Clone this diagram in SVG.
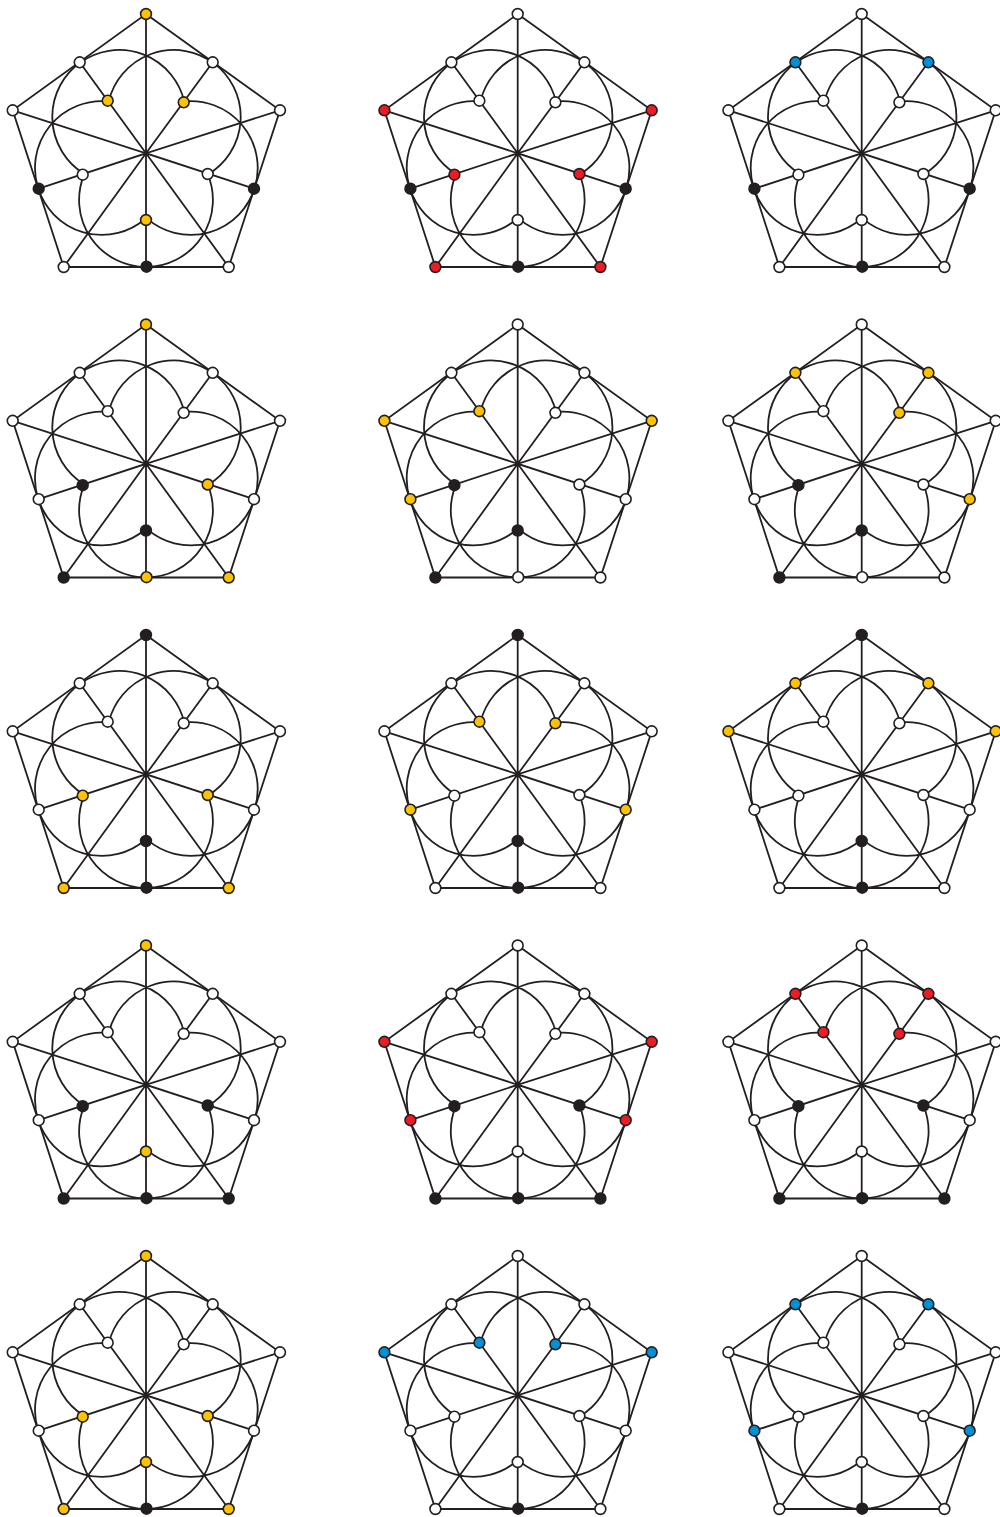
<svg xmlns="http://www.w3.org/2000/svg" width="1000" height="1517" viewBox="0 0 1000 1517">
<style>
.edges{fill:none;stroke:#231f20;stroke-width:1.8}
.p{fill:#fff}
circle{stroke:#231f20;stroke-width:1.6}
.y{fill:#fdc300}.r{fill:#ed1c24}.b{fill:#0091d5}.k{fill:#231f20}
</style>
<defs>
<g id="skeleton">
<path d="M146 14L280 110.3L228.7 267L63.7 267L12.7 110.3Z"/>
<path d="M146 14L146 266.7M280 110.3L146 153.3L12.7 110.3M228.7 267L146 153.3L63.7 267M212.7 62.3L146 153.3L79.7 62.3M254 188.7L146 153.3L38.7 188.7"/>
<path d="M184.45 102.13A66.9 66.9 0 1 0 83.48 173.46M207.95 174.43A66.9 66.9 0 1 0 108.83 100.98M147.14 218.68A66.9 66.9 0 1 0 183.61 101.49M83.88 175.17A66.9 66.9 0 1 0 207.65 174.02M107.64 101.35A66.9 66.9 0 1 0 145.17 219.02"/>
</g>
<circle id="O0" cx="146" cy="14" r="5.4"/><circle id="O1" cx="280" cy="110.3" r="5.4"/><circle id="O2" cx="228.7" cy="267" r="5.4"/><circle id="O3" cx="63.7" cy="267" r="5.4"/><circle id="O4" cx="12.7" cy="110.3" r="5.4"/>
<circle id="M0" cx="212.7" cy="62.3" r="5.4"/><circle id="M1" cx="254" cy="188.7" r="5.4"/><circle id="M2" cx="146.5" cy="266.7" r="5.4"/><circle id="M3" cx="38.7" cy="188.7" r="5.4"/><circle id="M4" cx="79.7" cy="62.3" r="5.4"/>
<circle id="I0" cx="183.7" cy="102.3" r="5.4"/><circle id="I1" cx="207.7" cy="174" r="5.4"/><circle id="I2" cx="146" cy="220" r="5.4"/><circle id="I3" cx="82.7" cy="174.7" r="5.4"/><circle id="I4" cx="107.7" cy="100.7" r="5.4"/>
</defs>

<g id="r1c1" class="p">
<g id="r1c1-edges" class="edges"><use href="#skeleton"/></g>
<g id="r1c1-O0" class="y"><use href="#O0"/></g><g id="r1c1-O1"><use href="#O1"/></g><g id="r1c1-O2"><use href="#O2"/></g><g id="r1c1-O3"><use href="#O3"/></g><g id="r1c1-O4"><use href="#O4"/></g>
<g id="r1c1-M0"><use href="#M0"/></g><g id="r1c1-M1" class="k"><use href="#M1"/></g><g id="r1c1-M2" class="k"><use href="#M2"/></g><g id="r1c1-M3" class="k"><use href="#M3"/></g><g id="r1c1-M4"><use href="#M4"/></g>
<g id="r1c1-I0" class="y"><use href="#I0"/></g><g id="r1c1-I1"><use href="#I1"/></g><g id="r1c1-I2" class="y"><use href="#I2"/></g><g id="r1c1-I3"><use href="#I3"/></g><g id="r1c1-I4" class="y"><use href="#I4"/></g>
</g>

<g id="r1c2" class="p" transform="translate(371.7 0)">
<g id="r1c2-edges" class="edges"><use href="#skeleton"/></g>
<g id="r1c2-O0"><use href="#O0"/></g><g id="r1c2-O1" class="r"><use href="#O1"/></g><g id="r1c2-O2" class="r"><use href="#O2"/></g><g id="r1c2-O3" class="r"><use href="#O3"/></g><g id="r1c2-O4" class="r"><use href="#O4"/></g>
<g id="r1c2-M0"><use href="#M0"/></g><g id="r1c2-M1" class="k"><use href="#M1"/></g><g id="r1c2-M2" class="k"><use href="#M2"/></g><g id="r1c2-M3" class="k"><use href="#M3"/></g><g id="r1c2-M4"><use href="#M4"/></g>
<g id="r1c2-I0"><use href="#I0"/></g><g id="r1c2-I1" class="r"><use href="#I1"/></g><g id="r1c2-I2"><use href="#I2"/></g><g id="r1c2-I3" class="r"><use href="#I3"/></g><g id="r1c2-I4"><use href="#I4"/></g>
</g>

<g id="r1c3" class="p" transform="translate(715.7 0)">
<g id="r1c3-edges" class="edges"><use href="#skeleton"/></g>
<g id="r1c3-O0"><use href="#O0"/></g><g id="r1c3-O1"><use href="#O1"/></g><g id="r1c3-O2"><use href="#O2"/></g><g id="r1c3-O3"><use href="#O3"/></g><g id="r1c3-O4"><use href="#O4"/></g>
<g id="r1c3-M0" class="b"><use href="#M0"/></g><g id="r1c3-M1" class="k"><use href="#M1"/></g><g id="r1c3-M2" class="k"><use href="#M2"/></g><g id="r1c3-M3" class="k"><use href="#M3"/></g><g id="r1c3-M4" class="b"><use href="#M4"/></g>
<g id="r1c3-I0"><use href="#I0"/></g><g id="r1c3-I1"><use href="#I1"/></g><g id="r1c3-I2"><use href="#I2"/></g><g id="r1c3-I3"><use href="#I3"/></g><g id="r1c3-I4"><use href="#I4"/></g>
</g>

<g id="r2c1" class="p" transform="translate(0 310.5)">
<g id="r2c1-edges" class="edges"><use href="#skeleton"/></g>
<g id="r2c1-O0" class="y"><use href="#O0"/></g><g id="r2c1-O1"><use href="#O1"/></g><g id="r2c1-O2" class="y"><use href="#O2"/></g><g id="r2c1-O3" class="k"><use href="#O3"/></g><g id="r2c1-O4"><use href="#O4"/></g>
<g id="r2c1-M0"><use href="#M0"/></g><g id="r2c1-M1"><use href="#M1"/></g><g id="r2c1-M2" class="y"><use href="#M2"/></g><g id="r2c1-M3"><use href="#M3"/></g><g id="r2c1-M4"><use href="#M4"/></g>
<g id="r2c1-I0"><use href="#I0"/></g><g id="r2c1-I1" class="y"><use href="#I1"/></g><g id="r2c1-I2" class="k"><use href="#I2"/></g><g id="r2c1-I3" class="k"><use href="#I3"/></g><g id="r2c1-I4"><use href="#I4"/></g>
</g>

<g id="r2c2" class="p" transform="translate(371.7 310.5)">
<g id="r2c2-edges" class="edges"><use href="#skeleton"/></g>
<g id="r2c2-O0"><use href="#O0"/></g><g id="r2c2-O1" class="y"><use href="#O1"/></g><g id="r2c2-O2"><use href="#O2"/></g><g id="r2c2-O3" class="k"><use href="#O3"/></g><g id="r2c2-O4" class="y"><use href="#O4"/></g>
<g id="r2c2-M0"><use href="#M0"/></g><g id="r2c2-M1"><use href="#M1"/></g><g id="r2c2-M2"><use href="#M2"/></g><g id="r2c2-M3" class="y"><use href="#M3"/></g><g id="r2c2-M4"><use href="#M4"/></g>
<g id="r2c2-I0"><use href="#I0"/></g><g id="r2c2-I1"><use href="#I1"/></g><g id="r2c2-I2" class="k"><use href="#I2"/></g><g id="r2c2-I3" class="k"><use href="#I3"/></g><g id="r2c2-I4" class="y"><use href="#I4"/></g>
</g>

<g id="r2c3" class="p" transform="translate(715.7 310.5)">
<g id="r2c3-edges" class="edges"><use href="#skeleton"/></g>
<g id="r2c3-O0"><use href="#O0"/></g><g id="r2c3-O1"><use href="#O1"/></g><g id="r2c3-O2"><use href="#O2"/></g><g id="r2c3-O3" class="k"><use href="#O3"/></g><g id="r2c3-O4"><use href="#O4"/></g>
<g id="r2c3-M0" class="y"><use href="#M0"/></g><g id="r2c3-M1" class="y"><use href="#M1"/></g><g id="r2c3-M2"><use href="#M2"/></g><g id="r2c3-M3"><use href="#M3"/></g><g id="r2c3-M4" class="y"><use href="#M4"/></g>
<g id="r2c3-I0" class="y"><use href="#I0"/></g><g id="r2c3-I1"><use href="#I1"/></g><g id="r2c3-I2" class="k"><use href="#I2"/></g><g id="r2c3-I3" class="k"><use href="#I3"/></g><g id="r2c3-I4"><use href="#I4"/></g>
</g>

<g id="r3c1" class="p" transform="translate(0 621)">
<g id="r3c1-edges" class="edges"><use href="#skeleton"/></g>
<g id="r3c1-O0" class="k"><use href="#O0"/></g><g id="r3c1-O1"><use href="#O1"/></g><g id="r3c1-O2" class="y"><use href="#O2"/></g><g id="r3c1-O3" class="y"><use href="#O3"/></g><g id="r3c1-O4"><use href="#O4"/></g>
<g id="r3c1-M0"><use href="#M0"/></g><g id="r3c1-M1"><use href="#M1"/></g><g id="r3c1-M2" class="k"><use href="#M2"/></g><g id="r3c1-M3"><use href="#M3"/></g><g id="r3c1-M4"><use href="#M4"/></g>
<g id="r3c1-I0"><use href="#I0"/></g><g id="r3c1-I1" class="y"><use href="#I1"/></g><g id="r3c1-I2" class="k"><use href="#I2"/></g><g id="r3c1-I3" class="y"><use href="#I3"/></g><g id="r3c1-I4"><use href="#I4"/></g>
</g>

<g id="r3c2" class="p" transform="translate(371.7 621)">
<g id="r3c2-edges" class="edges"><use href="#skeleton"/></g>
<g id="r3c2-O0" class="k"><use href="#O0"/></g><g id="r3c2-O1"><use href="#O1"/></g><g id="r3c2-O2"><use href="#O2"/></g><g id="r3c2-O3"><use href="#O3"/></g><g id="r3c2-O4"><use href="#O4"/></g>
<g id="r3c2-M0"><use href="#M0"/></g><g id="r3c2-M1" class="y"><use href="#M1"/></g><g id="r3c2-M2" class="k"><use href="#M2"/></g><g id="r3c2-M3" class="y"><use href="#M3"/></g><g id="r3c2-M4"><use href="#M4"/></g>
<g id="r3c2-I0" class="y"><use href="#I0"/></g><g id="r3c2-I1"><use href="#I1"/></g><g id="r3c2-I2" class="k"><use href="#I2"/></g><g id="r3c2-I3"><use href="#I3"/></g><g id="r3c2-I4" class="y"><use href="#I4"/></g>
</g>

<g id="r3c3" class="p" transform="translate(715.7 621)">
<g id="r3c3-edges" class="edges"><use href="#skeleton"/></g>
<g id="r3c3-O0" class="k"><use href="#O0"/></g><g id="r3c3-O1" class="y"><use href="#O1"/></g><g id="r3c3-O2"><use href="#O2"/></g><g id="r3c3-O3"><use href="#O3"/></g><g id="r3c3-O4" class="y"><use href="#O4"/></g>
<g id="r3c3-M0" class="y"><use href="#M0"/></g><g id="r3c3-M1"><use href="#M1"/></g><g id="r3c3-M2" class="k"><use href="#M2"/></g><g id="r3c3-M3"><use href="#M3"/></g><g id="r3c3-M4" class="y"><use href="#M4"/></g>
<g id="r3c3-I0"><use href="#I0"/></g><g id="r3c3-I1"><use href="#I1"/></g><g id="r3c3-I2" class="k"><use href="#I2"/></g><g id="r3c3-I3"><use href="#I3"/></g><g id="r3c3-I4"><use href="#I4"/></g>
</g>

<g id="r4c1" class="p" transform="translate(0 931.5)">
<g id="r4c1-edges" class="edges"><use href="#skeleton"/></g>
<g id="r4c1-O0" class="y"><use href="#O0"/></g><g id="r4c1-O1"><use href="#O1"/></g><g id="r4c1-O2" class="k"><use href="#O2"/></g><g id="r4c1-O3" class="k"><use href="#O3"/></g><g id="r4c1-O4"><use href="#O4"/></g>
<g id="r4c1-M0"><use href="#M0"/></g><g id="r4c1-M1"><use href="#M1"/></g><g id="r4c1-M2" class="k"><use href="#M2"/></g><g id="r4c1-M3"><use href="#M3"/></g><g id="r4c1-M4"><use href="#M4"/></g>
<g id="r4c1-I0"><use href="#I0"/></g><g id="r4c1-I1" class="k"><use href="#I1"/></g><g id="r4c1-I2" class="y"><use href="#I2"/></g><g id="r4c1-I3" class="k"><use href="#I3"/></g><g id="r4c1-I4"><use href="#I4"/></g>
</g>

<g id="r4c2" class="p" transform="translate(371.7 931.5)">
<g id="r4c2-edges" class="edges"><use href="#skeleton"/></g>
<g id="r4c2-O0"><use href="#O0"/></g><g id="r4c2-O1" class="r"><use href="#O1"/></g><g id="r4c2-O2" class="k"><use href="#O2"/></g><g id="r4c2-O3" class="k"><use href="#O3"/></g><g id="r4c2-O4" class="r"><use href="#O4"/></g>
<g id="r4c2-M0"><use href="#M0"/></g><g id="r4c2-M1" class="r"><use href="#M1"/></g><g id="r4c2-M2" class="k"><use href="#M2"/></g><g id="r4c2-M3" class="r"><use href="#M3"/></g><g id="r4c2-M4"><use href="#M4"/></g>
<g id="r4c2-I0"><use href="#I0"/></g><g id="r4c2-I1" class="k"><use href="#I1"/></g><g id="r4c2-I2"><use href="#I2"/></g><g id="r4c2-I3" class="k"><use href="#I3"/></g><g id="r4c2-I4"><use href="#I4"/></g>
</g>

<g id="r4c3" class="p" transform="translate(715.7 931.5)">
<g id="r4c3-edges" class="edges"><use href="#skeleton"/></g>
<g id="r4c3-O0"><use href="#O0"/></g><g id="r4c3-O1"><use href="#O1"/></g><g id="r4c3-O2" class="k"><use href="#O2"/></g><g id="r4c3-O3" class="k"><use href="#O3"/></g><g id="r4c3-O4"><use href="#O4"/></g>
<g id="r4c3-M0" class="r"><use href="#M0"/></g><g id="r4c3-M1"><use href="#M1"/></g><g id="r4c3-M2" class="k"><use href="#M2"/></g><g id="r4c3-M3"><use href="#M3"/></g><g id="r4c3-M4" class="r"><use href="#M4"/></g>
<g id="r4c3-I0" class="r"><use href="#I0"/></g><g id="r4c3-I1" class="k"><use href="#I1"/></g><g id="r4c3-I2"><use href="#I2"/></g><g id="r4c3-I3" class="k"><use href="#I3"/></g><g id="r4c3-I4" class="r"><use href="#I4"/></g>
</g>

<g id="r5c1" class="p" transform="translate(0 1242)">
<g id="r5c1-edges" class="edges"><use href="#skeleton"/></g>
<g id="r5c1-O0" class="y"><use href="#O0"/></g><g id="r5c1-O1"><use href="#O1"/></g><g id="r5c1-O2" class="y"><use href="#O2"/></g><g id="r5c1-O3" class="y"><use href="#O3"/></g><g id="r5c1-O4"><use href="#O4"/></g>
<g id="r5c1-M0"><use href="#M0"/></g><g id="r5c1-M1"><use href="#M1"/></g><g id="r5c1-M2" class="k"><use href="#M2"/></g><g id="r5c1-M3"><use href="#M3"/></g><g id="r5c1-M4"><use href="#M4"/></g>
<g id="r5c1-I0"><use href="#I0"/></g><g id="r5c1-I1" class="y"><use href="#I1"/></g><g id="r5c1-I2" class="y"><use href="#I2"/></g><g id="r5c1-I3" class="y"><use href="#I3"/></g><g id="r5c1-I4"><use href="#I4"/></g>
</g>

<g id="r5c2" class="p" transform="translate(371.7 1242)">
<g id="r5c2-edges" class="edges"><use href="#skeleton"/></g>
<g id="r5c2-O0"><use href="#O0"/></g><g id="r5c2-O1" class="b"><use href="#O1"/></g><g id="r5c2-O2"><use href="#O2"/></g><g id="r5c2-O3"><use href="#O3"/></g><g id="r5c2-O4" class="b"><use href="#O4"/></g>
<g id="r5c2-M0"><use href="#M0"/></g><g id="r5c2-M1"><use href="#M1"/></g><g id="r5c2-M2" class="k"><use href="#M2"/></g><g id="r5c2-M3"><use href="#M3"/></g><g id="r5c2-M4"><use href="#M4"/></g>
<g id="r5c2-I0" class="b"><use href="#I0"/></g><g id="r5c2-I1"><use href="#I1"/></g><g id="r5c2-I2"><use href="#I2"/></g><g id="r5c2-I3"><use href="#I3"/></g><g id="r5c2-I4" class="b"><use href="#I4"/></g>
</g>

<g id="r5c3" class="p" transform="translate(715.7 1242)">
<g id="r5c3-edges" class="edges"><use href="#skeleton"/></g>
<g id="r5c3-O0"><use href="#O0"/></g><g id="r5c3-O1"><use href="#O1"/></g><g id="r5c3-O2"><use href="#O2"/></g><g id="r5c3-O3"><use href="#O3"/></g><g id="r5c3-O4"><use href="#O4"/></g>
<g id="r5c3-M0" class="b"><use href="#M0"/></g><g id="r5c3-M1" class="b"><use href="#M1"/></g><g id="r5c3-M2" class="k"><use href="#M2"/></g><g id="r5c3-M3" class="b"><use href="#M3"/></g><g id="r5c3-M4" class="b"><use href="#M4"/></g>
<g id="r5c3-I0"><use href="#I0"/></g><g id="r5c3-I1"><use href="#I1"/></g><g id="r5c3-I2"><use href="#I2"/></g><g id="r5c3-I3"><use href="#I3"/></g><g id="r5c3-I4"><use href="#I4"/></g>
</g>
</svg>
